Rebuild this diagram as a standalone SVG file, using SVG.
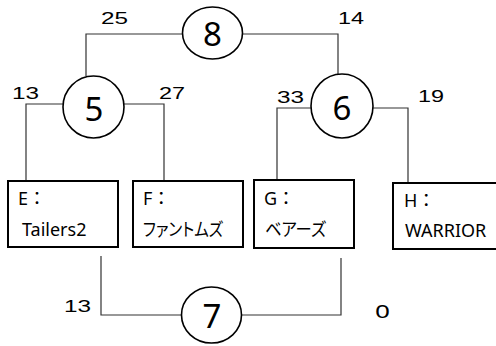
<svg xmlns="http://www.w3.org/2000/svg" width="496" height="346" viewBox="0 0 496 346">
<style>
.bg{fill:#fff}
.conn{fill:none;stroke:#333;stroke-width:1.2}
.circ{fill:#fff;stroke:#000;stroke-width:1.6}
.box{fill:#fff;stroke:#000;stroke-width:2}
.num{font-family:"Noto Sans","DejaVu Sans",sans-serif;font-size:33px;fill:#000;text-anchor:middle}
.lbl{font-family:"Liberation Sans",Arial,sans-serif;font-size:16px;fill:#000}
.txt{font-family:"Noto Sans","Noto Sans CJK JP",sans-serif;font-size:18px;fill:#000}
.jp{font-family:"Noto Sans CJK JP","Noto Sans",sans-serif;font-size:18px;fill:#000;font-feature-settings:"palt"}
</style>
<rect class="bg" x="0" y="0" width="496" height="346"/>
<g id="connectors">
<path class="conn" d="M182,34 H86 V76"/>
<path class="conn" d="M243,34 H338 V75"/>
<path class="conn" d="M63,104 H26 V181"/>
<path class="conn" d="M124,104 H164 V181"/>
<path class="conn" d="M311,108 H277 V180"/>
<path class="conn" d="M373,108 H408 V183"/>
<path class="conn" d="M101,256 V315 H181"/>
<path class="conn" d="M242,315 H341 V258"/>
<text class="lbl" x="101" y="23.5" textLength="27" lengthAdjust="spacingAndGlyphs">25</text>
<text class="lbl" x="338" y="23.5" textLength="26" lengthAdjust="spacingAndGlyphs">14</text>
<text class="lbl" x="12" y="99" textLength="27" lengthAdjust="spacingAndGlyphs">13</text>
<text class="lbl" x="159" y="99" textLength="26" lengthAdjust="spacingAndGlyphs">27</text>
<text class="lbl" x="277" y="103" textLength="27" lengthAdjust="spacingAndGlyphs">33</text>
<text class="lbl" x="418" y="102" textLength="26" lengthAdjust="spacingAndGlyphs">19</text>
<text class="lbl" x="64" y="312" textLength="27" lengthAdjust="spacingAndGlyphs">13</text>
<text class="txt" x="375" y="318" textLength="15" lengthAdjust="spacingAndGlyphs">0</text>
</g>
<g id="n8">
<ellipse class="circ" cx="212.5" cy="33" rx="30" ry="26"/>
<text class="num" x="212.5" y="45.5">8</text>
</g>
<g id="n5">
<ellipse class="circ" cx="93.5" cy="107" rx="30.5" ry="31"/>
<text class="num" x="94" y="121">5</text>
</g>
<g id="n6">
<ellipse class="circ" cx="342" cy="106" rx="31" ry="32"/>
<text class="num" x="342" y="120">6</text>
</g>
<g id="n7">
<ellipse class="circ" cx="211.5" cy="315" rx="30" ry="28"/>
<text class="num" x="212" y="328">7</text>
</g>
<g id="nE">
<rect class="box" x="8" y="181" width="110" height="66"/>
<text class="txt" x="18" y="205">E：</text>
<text class="txt" x="22" y="236">Tailers2</text>
</g>
<g id="nF">
<rect class="box" x="133" y="181" width="110" height="66"/>
<text class="txt" x="143" y="205">F：</text>
<text class="jp" x="143" y="236" textLength="80" lengthAdjust="spacingAndGlyphs">ファントムズ</text>
</g>
<g id="nG">
<rect class="box" x="254" y="180" width="100" height="68"/>
<text class="txt" x="264" y="205">G：</text>
<text class="jp" x="265" y="236" textLength="61" lengthAdjust="spacingAndGlyphs">ベアーズ</text>
</g>
<g id="nH">
<rect class="box" x="393" y="183" width="110" height="66"/>
<text class="txt" x="404" y="207">H：</text>
<text class="txt" x="405" y="237">WARRIOR</text>
</g>
</svg>
